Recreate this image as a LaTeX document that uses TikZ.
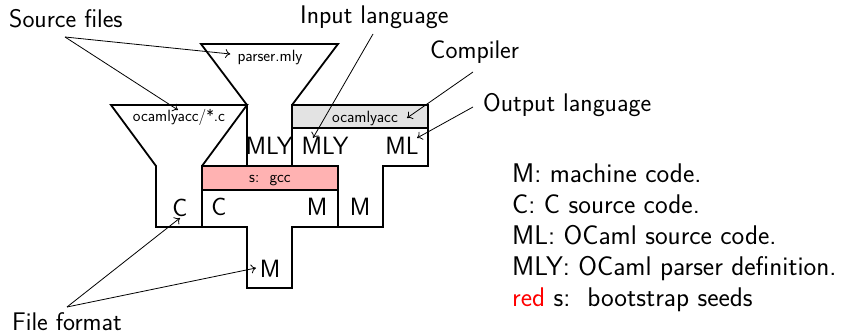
\documentclass[tikz,border=0pt]{standalone}
\usetikzlibrary{arrows.meta}
\definecolor{seedred}{rgb}{1,0.7,0.7}
\definecolor{compgray}{gray}{0.89}
\begin{document}
\begin{tikzpicture}[x=1pt,y=-1pt,line join=miter,
  outline/.style={draw=black,line width=1.8pt},
  ann/.style={font=\sffamily\fontsize{25.5}{30}\selectfont,inner sep=0pt,anchor=base west},
  big/.style={font=\sffamily\fontsize{25}{30}\selectfont,inner sep=0pt,anchor=base},
  small/.style={font=\sffamily\fontsize{16.3}{19}\selectfont,inner sep=0pt,anchor=base},
  legend/.style={font=\sffamily\fontsize{27}{32}\selectfont,inner sep=0pt,anchor=base west},
  pointer/.style={line width=0.8pt,-{To[length=5pt,width=9pt]}}]
\useasboundingbox (0,0) rectangle (846,336);

% coloured bands of the compilers
\fill[seedred] (202,166) rectangle (338,190);
\fill[compgray] (292,105) rectangle (428,128);

% program funnel: ocamlyacc sources in C
\draw[outline] (111,105) -- (247,105) -- (202,166) -- (202,227) -- (156,227) -- (156,166) -- cycle;
% program funnel: parser.mly
\draw[outline] (201,44) -- (338,44) -- (292,105) -- (292,166) -- (247,166) -- (247,105) -- cycle;
% compiler T: gcc (C -> M, runs on M)
\draw[outline] (202,166) -- (338,166) -- (338,227) -- (292,227) -- (292,288) -- (247,288) -- (247,227) -- (202,227) -- cycle;
\draw[outline] (202,190) -- (338,190);
% compiler T: ocamlyacc (MLY -> ML, runs on M)
\draw[outline] (292,105) -- (428,105) -- (428,166) -- (383,166) -- (383,227) -- (338,227) -- (338,166) -- (292,166) -- cycle;
\draw[outline] (292,128) -- (428,128);

% texts inside the shapes
\node[small] (srcC) at (179,122) {ocamlyacc/*.c};
\node[small] (srcMly) at (270,62) {parser.mly};
\node[small] (yacc) at (365,123) {ocamlyacc};
\node[small] (gcc) at (270,183) {s:\ \ gcc};

\node[big] (mlyA) at (269,155) {MLY};
\node[big] (mlyB) at (325,155) {MLY};
\node[big] (mlOut) at (402,155) {ML};
\node[big] (cSrc) at (180,217) {C};
\node[big] (cIn) at (219,216) {C};
\node[big] (mOut) at (317,216) {M};
\node[big] (mYacc) at (360,216) {M};
\node[big] (mRun) at (270,278) {M};

% annotations
\node[ann] (lblSrc) at (9,28) {Source files};
\node[ann] (lblIn) at (300,24) {Input language};
\node[ann] (lblComp) at (430,59) {Compiler};
\node[ann] (lblOut) at (483,112) {Output language};
\node[ann] (lblFmt) at (12,331) {File format};

\coordinate (srcFoot) at (65,37);
\coordinate (fmtTop) at (67,307);
\coordinate (inFoot) at (373,34);
\coordinate (compFoot) at (473,72);
\coordinate (outFoot) at (473,107);

\draw[pointer] (srcFoot) -- ([xshift=-7pt]srcMly.west |- 0,54);
\draw[pointer] (srcFoot) -- (178,110);
\draw[pointer] (inFoot) -- (313,138);
\draw[pointer] (compFoot) -- (407,118);
\draw[pointer] (outFoot) -- (417,138);
\draw[pointer] (fmtTop) -- (180,218);
\draw[pointer] (fmtTop) -- (256,268);

% legend
\node[legend] (leg1) at (512,183) {M: machine code.};
\node[legend] (leg2) at (512,214) {C: C source code.};
\node[legend] (leg3) at (512,245) {ML: OCaml source code.};
\node[legend] (leg4) at (512,276) {MLY: OCaml parser definition.};
\node[legend] (leg5) at (512,307) {\textcolor{red}{red} s:\ \ bootstrap seeds};
\end{tikzpicture}
\end{document}
